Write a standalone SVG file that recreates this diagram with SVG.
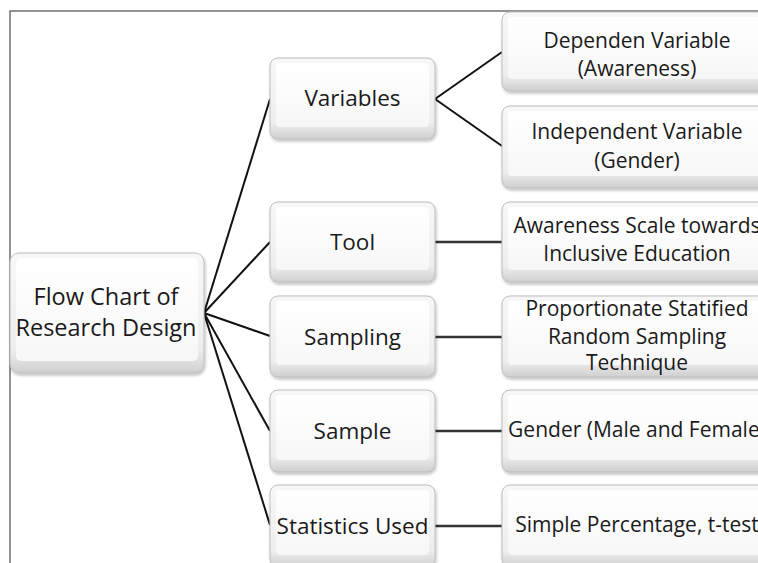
<svg xmlns="http://www.w3.org/2000/svg" width="758" height="563" viewBox="0 0 758 563">
<defs>
  <linearGradient id="gOuter" x1="0" y1="0" x2="0" y2="1">
    <stop offset="0" stop-color="#f7f7f7"/>
    <stop offset="0.8" stop-color="#eeeeee"/>
    <stop offset="1" stop-color="#cfcfcf"/>
  </linearGradient>
  <linearGradient id="gFace" x1="0" y1="0" x2="0" y2="1">
    <stop offset="0" stop-color="#ffffff"/>
    <stop offset="1" stop-color="#f7f7f7"/>
  </linearGradient>
  <filter id="sh" x="-10%" y="-10%" width="130%" height="140%">
    <feDropShadow dx="1" dy="2" stdDeviation="1.5" flood-color="#000" flood-opacity="0.25"/>
  </filter>
</defs>
<style>
  .outer { fill: url(#gOuter); stroke: #bdbdbd; stroke-width: 1; filter: url(#sh); }
  .face { fill: url(#gFace); stroke: none; }
  .t { font-family: "Open Sans", "Liberation Sans", sans-serif; fill: #1a1a1a; text-anchor: middle; }
  .t0 { font-size: 23.5px; }
  .t1 { font-size: 22.5px; }
  .t2 { font-size: 21px; }
  .c { stroke: #111; stroke-width: 2; fill: none; }
  .h { stroke: #333; stroke-width: 2.5; fill: none; }
  .frame { stroke: #707070; stroke-width: 1.5; fill: none; }
</style>
<rect width="758" height="563" fill="#ffffff"/>
<path class="frame" d="M758,11 H10 V563"/>

<g id="connectors">
  <line class="c" x1="204" y1="313" x2="270" y2="99"/>
  <line class="c" x1="204" y1="313" x2="270" y2="242"/>
  <line class="c" x1="204" y1="313" x2="270" y2="336"/>
  <line class="c" x1="204" y1="313" x2="270" y2="431"/>
  <line class="c" x1="204" y1="313" x2="270" y2="525"/>
  <line class="c" x1="435" y1="99" x2="502" y2="52"/>
  <line class="c" x1="435" y1="99" x2="502" y2="146"/>
  <line class="h" x1="435" y1="242" x2="502" y2="242"/>
  <line class="h" x1="435" y1="337" x2="502" y2="337"/>
  <line class="h" x1="435" y1="431" x2="502" y2="431"/>
  <line class="h" x1="435" y1="526" x2="502" y2="526"/>
</g>

<g id="root">
  <rect class="outer" x="10" y="253" width="194" height="120" rx="9"/>
  <rect class="face" x="16" y="258" width="182" height="103" rx="5"/>
  <text class="t t0" x="106" y="305">Flow Chart of</text>
  <text class="t t0" x="106" y="336">Research Design</text>
</g>

<g id="variables">
  <rect class="outer" x="270" y="58" width="165" height="81" rx="8"/>
  <rect class="face" x="276" y="63" width="153" height="64" rx="4"/>
  <text class="t t1" x="352.5" y="106">Variables</text>
</g>
<g id="tool">
  <rect class="outer" x="270" y="202" width="165" height="80" rx="8"/>
  <rect class="face" x="276" y="207" width="153" height="63" rx="4"/>
  <text class="t t1" x="352.5" y="250">Tool</text>
</g>
<g id="sampling">
  <rect class="outer" x="270" y="296" width="165" height="81" rx="8"/>
  <rect class="face" x="276" y="301" width="153" height="64" rx="4"/>
  <text class="t t1" x="352.5" y="345">Sampling</text>
</g>
<g id="sample">
  <rect class="outer" x="270" y="390" width="165" height="82" rx="8"/>
  <rect class="face" x="276" y="395" width="153" height="65" rx="4"/>
  <text class="t t1" x="352.5" y="439">Sample</text>
</g>
<g id="statistics">
  <rect class="outer" x="270" y="485" width="165" height="82" rx="8"/>
  <rect class="face" x="276" y="490" width="153" height="65" rx="4"/>
  <text class="t t1" x="352.5" y="534">Statistics Used</text>
</g>

<g id="dependent">
  <rect class="outer" x="502" y="12" width="270" height="79" rx="8"/>
  <rect class="face" x="508" y="17" width="258" height="62" rx="4"/>
  <text class="t t2" x="637" y="48">Dependen Variable</text>
  <text class="t t2" x="637" y="76">(Awareness)</text>
</g>
<g id="independent">
  <rect class="outer" x="502" y="106" width="270" height="82" rx="8"/>
  <rect class="face" x="508" y="111" width="258" height="65" rx="4"/>
  <text class="t t2" x="637" y="139">Independent Variable</text>
  <text class="t t2" x="637" y="168">(Gender)</text>
</g>
<g id="scale">
  <rect class="outer" x="502" y="202" width="270" height="80" rx="8"/>
  <rect class="face" x="508" y="207" width="258" height="63" rx="4"/>
  <text class="t t2" x="637" y="233">Awareness Scale towards</text>
  <text class="t t2" x="637" y="261">Inclusive Education</text>
</g>
<g id="technique">
  <rect class="outer" x="502" y="296" width="270" height="81" rx="8"/>
  <rect class="face" x="508" y="301" width="258" height="64" rx="4"/>
  <text class="t t2" x="637" y="316">Proportionate Statified</text>
  <text class="t t2" x="637" y="344">Random Sampling</text>
  <text class="t t2" x="637" y="370">Technique</text>
</g>
<g id="gender">
  <rect class="outer" x="502" y="390" width="270" height="82" rx="8"/>
  <rect class="face" x="508" y="395" width="258" height="65" rx="4"/>
  <text class="t t2" x="637" y="437">Gender (Male and Female)</text>
</g>
<g id="stats">
  <rect class="outer" x="502" y="485" width="270" height="82" rx="8"/>
  <rect class="face" x="508" y="490" width="258" height="65" rx="4"/>
  <text class="t t2" x="637" y="532">Simple Percentage, t-test</text>
</g>
</svg>
